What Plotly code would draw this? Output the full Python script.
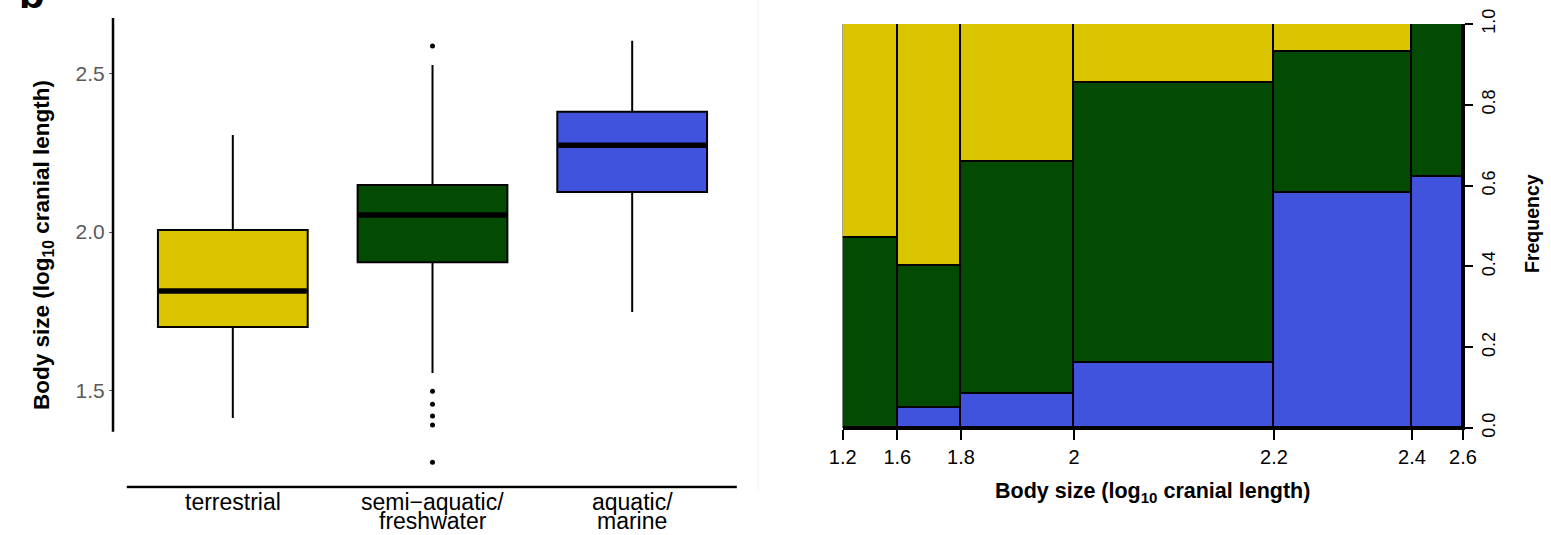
import plotly.graph_objects as go

# ---------------- data: boxplot (left) ----------------
habitats = ["terrestrial", "semi\u2212aquatic/\nfreshwater", "aquatic/\nmarine"]
box_colors = ["#DBC400", "#034A03", "#4152DC"]
box_lower_whisker = [1.413, 1.555, 1.748]
box_q1 = [1.700, 1.905, 2.126]
box_median = [1.814, 2.054, 2.274]
box_q3 = [2.006, 2.148, 2.379]
box_upper_whisker = [2.306, 2.527, 2.603]
box_outliers = [[], [2.587, 1.498, 1.457, 1.420, 1.391, 1.274], []]
y_ticks = [1.5, 2.0, 2.5]
y_tick_labels = ["1.5", "2.0", "2.5"]

# ---------------- data: spineplot (right) ----------------
bin_breaks = ["1.2", "1.6", "1.8", "2", "2.2", "2.4", "2.6"]
bin_share = [0.088, 0.1027, 0.1822, 0.3224, 0.2225, 0.0822]
freq_aquatic = [0.0, 0.050, 0.084, 0.161, 0.582, 0.621]
freq_semi = [0.470, 0.351, 0.574, 0.693, 0.349, 0.379]
freq_terrestrial = [0.530, 0.599, 0.342, 0.146, 0.069, 0.0]

W, H = 1551, 535
FONT = "Liberation Sans, Arial, Helvetica, sans-serif"

fig = go.Figure()

# ---- boxplot ----
box_w = 0.75
for i in range(len(habitats)):
    fig.add_trace(go.Box(
        x=[i], q1=[box_q1[i]], median=[box_median[i]], q3=[box_q3[i]],
        lowerfence=[box_lower_whisker[i]], upperfence=[box_upper_whisker[i]],
        width=box_w, fillcolor=box_colors[i], line=dict(color="black", width=2),
        boxpoints=False, whiskerwidth=0, xaxis="x", yaxis="y", hoverinfo="skip"))
    fig.add_trace(go.Scatter(
        x=[i - box_w / 2 + 0.005, i + box_w / 2 - 0.005], y=[box_median[i]] * 2,
        mode="lines", line=dict(color="black", width=5.5), xaxis="x", yaxis="y",
        hoverinfo="skip"))
    if box_outliers[i]:
        fig.add_trace(go.Scatter(
            x=[i] * len(box_outliers[i]), y=box_outliers[i], mode="markers",
            marker=dict(color="black", size=5), xaxis="x", yaxis="y",
            hoverinfo="skip"))

# ---- spineplot ----
total = sum(bin_share)
shares = [s / total for s in bin_share]
lefts = [sum(shares[:k]) for k in range(len(shares))]
centers = [l + s / 2 for l, s in zip(lefts, shares)]
edges = lefts + [1.0]

for vals, col in [(freq_aquatic, box_colors[2]), (freq_semi, box_colors[1]),
                  (freq_terrestrial, box_colors[0])]:
    fig.add_trace(go.Bar(
        x=centers, y=vals, width=shares,
        marker=dict(color=col, line=dict(color="black", width=1.8)),
        xaxis="x2", yaxis="y2", hoverinfo="skip"))


def px_x(p):
    return p / W


def px_y(p):
    return (H - p) / H


layout = dict(
    width=W, height=H, margin=dict(l=0, r=0, t=0, b=0, pad=0, autoexpand=False),
    paper_bgcolor="white", plot_bgcolor="white", showlegend=False,
    barmode="stack", bargap=0,
    font=dict(family=FONT, color="black"),
    xaxis=dict(domain=[px_x(113), px_x(752)], range=[-0.6, 2.6], showticklabels=False,
               showgrid=False, zeroline=False, showline=False, ticks="", automargin=False),
    yaxis=dict(domain=[px_y(488.8), px_y(10.1)], range=[1.19, 2.70], tickvals=y_ticks,
               ticktext=y_tick_labels, tickfont=dict(size=21, color="#5a5a5a"),
               ticks="outside", ticklen=3, tickcolor="#5a5a5a", tickwidth=1,
               showgrid=False, zeroline=False, showline=False, automargin=False),
    xaxis2=dict(domain=[px_x(842.7), px_x(1463)], anchor="y2", range=[0, 1],
                tickvals=edges, ticktext=bin_breaks, ticks="outside", ticklen=10,
                tickwidth=2, tickcolor="black", showline=True, linewidth=2,
                linecolor="black", tickfont=dict(size=20), showgrid=False,
                zeroline=False, automargin=False),
    yaxis2=dict(domain=[px_y(428), px_y(24)], anchor="x2", side="right", range=[0, 1],
                dtick=0.2, tick0=0, tickformat=".1f", tickangle=-90, ticks="outside",
                ticklen=8, tickwidth=2, tickcolor="black", showline=True, linewidth=2,
                linecolor="black", tickfont=dict(size=18), showgrid=False,
                zeroline=False, automargin=False),
)
fig.update_layout(**layout)

# axis lines for boxplot (offset style)
fig.add_shape(type="line", xref="paper", yref="y", x0=px_x(113), x1=px_x(113),
              y0=1.37, y1=2.675, line=dict(color="black", width=2.5))
fig.add_shape(type="line", xref="x", yref="y", x0=-0.531, x1=2.524, y0=1.196, y1=1.196,
              line=dict(color="black", width=2.5))
# faint panel separator
fig.add_shape(type="line", xref="paper", yref="paper", x0=px_x(758), x1=px_x(758),
              y0=px_y(490), y1=1, line=dict(color="#eeeeee", width=1))

# category labels
for i, lab in enumerate(habitats):
    for j, line in enumerate(lab.split("\n")):
        fig.add_annotation(x=i, xref="x", y=px_y(502 + 19 * j), yref="paper",
                           text=line, showarrow=False, font=dict(size=23),
                           xanchor="center", yanchor="middle")

fig.add_annotation(x=px_x(43), y=px_y(245), xref="paper", yref="paper",
                   text="<b>Body size (log<sub>10</sub> cranial length)</b>", textangle=-90,
                   showarrow=False, font=dict(size=22.5), xanchor="center", yanchor="middle")
fig.add_annotation(x=px_x((842.7 + 1463) / 2), y=px_y(492), xref="paper", yref="paper",
                   text="<b>Body size (log<sub>10</sub> cranial length)</b>",
                   showarrow=False, font=dict(size=21.5), xanchor="center", yanchor="middle")
fig.add_annotation(x=px_x(1532), y=px_y(224), xref="paper", yref="paper",
                   text="<b>Frequency</b>", textangle=-90,
                   showarrow=False, font=dict(size=19.5), xanchor="center", yanchor="middle")
fig.add_annotation(x=px_x(17), y=px_y(19), xref="paper", yref="paper",
                   text="<b>b</b>", showarrow=False, font=dict(size=42),
                   xanchor="left", yanchor="bottom")

fig.write_html("out.html")
